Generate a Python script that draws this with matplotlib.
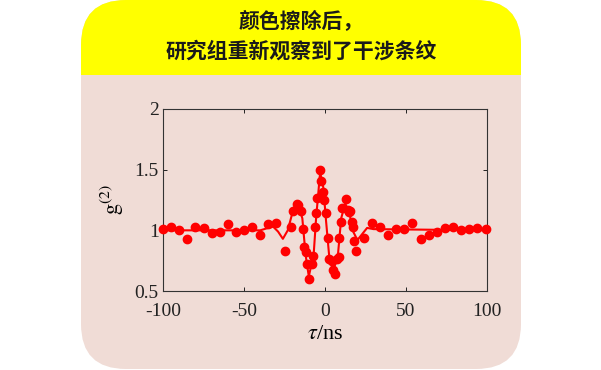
import matplotlib
matplotlib.use('Agg')
import matplotlib.pyplot as plt
from matplotlib.patches import FancyBboxPatch, Rectangle

plt.rcParams['mathtext.fontset'] = 'stix'
plt.rcParams['axes.unicode_minus'] = False

# Measured data points (tau in ns, g2)
tau = [-100, -95, -90, -85, -80, -75, -70, -65, -60, -55, -50, -45, -40, -35, -30,
       -25, -21, -20, -17.5, -16.5, -15, -13.8, -13, -12, -11, -10, -8, -7.2, -6.4,
       -5.6, -4.7, -3.1, -2.3, -1.4, -0.6, 0.4, 1.6, 2.7, 4.1, 5, 6.2, 7.6, 8.5, 8.9,
       9.9, 10.7, 12.8, 14, 14.8, 15.5, 16.5, 17.1, 17.9, 19.2, 24, 29, 34, 39, 44,
       49, 54, 59, 64, 69, 74, 79, 84, 89, 94, 99.5]
g2 = [1.01, 1.03, 1.00, 0.93, 1.03, 1.02, 0.98, 0.99, 1.05, 0.99, 1.00, 1.03, 0.96, 1.05, 1.06,
      0.83, 1.03, 1.16, 1.22, 1.21, 1.16, 1.01, 0.86, 0.82, 0.72, 0.60, 0.72, 0.79, 1.03,
      1.14, 1.27, 1.50, 1.41, 1.32, 1.25, 1.14, 0.94, 0.76, 0.75, 0.67, 0.64, 0.76, 0.78, 0.94,
      1.07, 1.18, 1.26, 1.17, 1.15, 1.16, 1.07, 1.03, 0.91, 0.83, 0.94, 1.06, 1.03, 0.96, 1.01,
      1.01, 1.06, 0.93, 0.96, 0.99, 1.02, 1.03, 1.00, 1.01, 1.02, 1.01]

# Fit curve
fit_tau = [-100, -40, -35, -32, -29, -26, -23, -20, -17, -14, -12, -10, -7, -5.5, -3,
           -1, 0.5, 2.5, 5, 8, 10, 12.5, 15, 17, 20, 23, 26, 30, 100]
fit_g2 = [1.00, 1.00, 1.02, 1.03, 0.99, 0.93, 1.00, 1.15, 1.22, 1.10, 0.80, 0.62, 0.80, 1.10, 1.48,
          1.35, 1.10, 0.80, 0.66, 0.80, 1.10, 1.22, 1.15, 1.00, 0.92, 0.97, 1.02, 1.01, 1.00]

title_lines = ['颜色擦除后，', '研究组重新观察到了干涉条纹']

W, H = 601, 370
fig = plt.figure(figsize=(W / 100, H / 100), dpi=100)
fig.patch.set_facecolor('white')

# Background card
bg = fig.add_axes([0, 0, 1, 1])
bg.set_xlim(0, W)
bg.set_ylim(H, 0)
bg.axis('off')
card = FancyBboxPatch((81 + 45, 0 + 45), 440 - 90, 369 - 90,
                      boxstyle='round,pad=45', facecolor='#f0dcd6', edgecolor='none')
bg.add_patch(card)
band = Rectangle((81, -50), 440, 125, facecolor='#ffff00', edgecolor='none')
bg.add_patch(band)
band.set_clip_path(card)

cjk = ['Noto Sans CJK SC', 'DejaVu Sans']
bg.text(301, 22, title_lines[0], ha='center', va='center', fontsize=15,
        fontweight='bold', family=cjk, color='#1a1a1a')
bg.text(301, 51, title_lines[1], ha='center', va='center', fontsize=15,
        fontweight='bold', family=cjk, color='#1a1a1a')

# Main plot
ax = fig.add_axes([163 / W, 1 - 291 / H, 324 / W, 182 / H])
ax.set_facecolor('none')
ax.plot(fit_tau, fit_g2, color='#ff0000', lw=1.5, zorder=2, clip_on=False)
ax.plot(tau, g2, 'o', color='#ff0000', ms=6, zorder=3, clip_on=False)

ax.set_xlim(-100, 100)
ax.set_ylim(0.5, 2)
ax.set_xticks([-100, -50, 0, 50, 100])
ax.set_yticks([0.5, 1, 1.5, 2])
ax.set_yticklabels(['0.5', '1', '1.5', '2'])
ax.tick_params(direction='in', length=3, width=0.7, top=True, right=True,
               labelsize=14, colors='#222222')
ax.tick_params(axis='x', pad=9)
ax.tick_params(axis='y', pad=3)
for lab in ax.get_xticklabels() + ax.get_yticklabels():
    lab.set_family('Liberation Serif')
for s in ax.spines.values():
    s.set_linewidth(0.8)
    s.set_color('#333333')

ax.set_xlabel(r'$\tau$/ns', fontsize=16, family='Liberation Serif', labelpad=3)
ax.set_ylabel(r'$\mathrm{g}^{(2)}$', fontsize=16, labelpad=6)

fig.savefig('out.png', dpi=100)
